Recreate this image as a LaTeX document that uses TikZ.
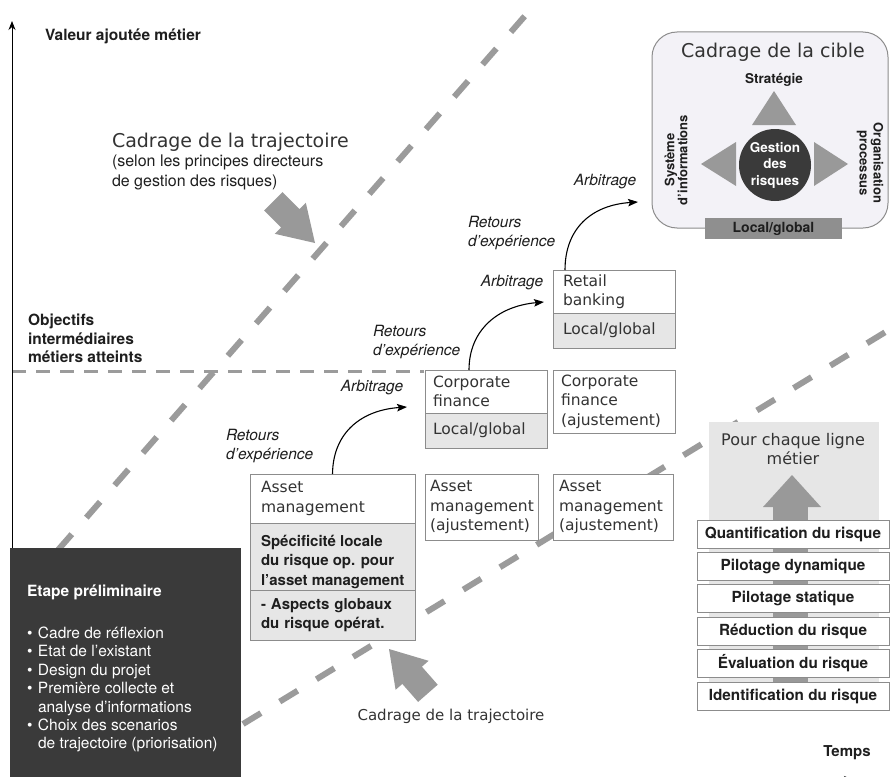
\documentclass[tikz,border=0pt]{standalone}
\usepackage{fontspec}
\setmainfont{TeX Gyre Heros}
\newfontfamily\geneva{DejaVu Sans}
\usetikzlibrary{arrows.meta}
\definecolor{dashgray}{HTML}{9B9B9B}
\definecolor{arrowgray}{HTML}{999999}
\definecolor{boxline}{HTML}{8C8C8C}
\definecolor{lightfill}{HTML}{E6E6E6}
\definecolor{darkfill}{HTML}{3A3A3A}
\definecolor{lavender}{HTML}{F3F2F7}
\definecolor{txt}{HTML}{333333}
\definecolor{txtdark}{HTML}{1E1E1E}
\definecolor{bargray}{HTML}{8F8F8F}
\begin{document}
\begin{tikzpicture}[x=1pt,y=-1pt,
  every node/.style={inner sep=0pt, outer sep=0pt},
  gen/.style={font=\geneva\fontsize{15.5}{19.5}\selectfont, text=txt},
  bx/.style={draw=boxline, line width=0.9pt, fill=white, inner xsep=8pt, inner ysep=0pt, align=left, anchor=north west, gen},
  gbx/.style={bx, fill=lightfill},
  bold/.style={font=\bfseries\fontsize{15}{19.5}\selectfont, text=txtdark},
  rbx/.style={draw=boxline, line width=0.9pt, fill=white, minimum width=192, minimum height=28, anchor=north west, font=\bfseries\fontsize{15.3}{18}\selectfont, text=txtdark},
  ital/.style={font=\itshape\fontsize{15.5}{18.5}\selectfont, text=txtdark, align=left},
  diag/.style={draw=dashgray, line width=6pt, dash pattern=on 21pt off 22pt},
  hdash/.style={draw=dashgray, line width=3pt, dash pattern=on 14pt off 10pt},
  axis/.style={draw=black, line width=0.9pt, -{Stealth[length=9pt,width=7pt]}},
  arr/.style={draw=black, line width=1.1pt, -{Stealth[length=10pt,width=7.5pt,inset=2pt]}}
]
\useasboundingbox (0,0) rectangle (890,776);

% dashed guide lines
\coordinate (d1a) at (58,550); \coordinate (d1b) at (531,9);
\coordinate (d2a) at (243,724); \coordinate (d2b) at (892,328);
\coordinate (hA) at (12,371); \coordinate (hB) at (424,371);
\draw[diag] (d1a) -- (d1b);
\draw[diag] (d2a) -- (d2b);
\draw[hdash] (hA) -- (hB);

% axes
\coordinate (yB) at (12,776); \coordinate (yT) at (12,21);
\draw[axis] (yB) -- (yT);
\coordinate (xA) at (12,779.5); \coordinate (xB) at (853,779.5);
\draw[axis] (xA) -- (xB);

% axis labels
\node[bold, anchor=west, font=\bfseries\fontsize{15.5}{19}\selectfont] (valeur) at (45,36) {Valeur ajoutée métier};
\node[bold, anchor=north west, align=left, font=\bfseries\fontsize{15.5}{18.7}\selectfont] (objectifs) at (28,314) {Objectifs\\intermédiaires\\métiers atteints};
\node[bold, font=\bfseries\fontsize{15}{18}\selectfont] (temps) at (847,753) {Temps};

% preliminary step box
\node[fill=darkfill, minimum width=231, minimum height=232, anchor=north west] (prelim) at (10,548) {};
\node[anchor=west, text=white, font=\bfseries\fontsize{15.5}{19}\selectfont] (prelimT) at (27,592) {Etape préliminaire};
\node[anchor=north west, align=left, text=white, font=\fontsize{15.5}{18.4}\selectfont] (prelimL) at (27,627)
  {\makebox[11pt][l]{•}Cadre de réflexion\\
   \makebox[11pt][l]{•}Etat de l'existant\\
   \makebox[11pt][l]{•}Design du projet\\
   \makebox[11pt][l]{•}Première collecte et\\
   \hspace*{11pt}analyse d'informations\\
   \makebox[11pt][l]{•}Choix des scenarios\\
   \hspace*{11pt}de trajectoire (priorisation)};

% trajectory framing arrows and texts
\fill[arrowgray] (315,243) -- (305.8,202.7) -- (299.4,209.1) -- (282.5,192.1) -- (264.1,210.5) -- (281.1,227.4) -- (274.7,233.8) -- cycle;
\fill[arrowgray] (389,649) -- (428.6,660.8) -- (421.9,666.7) -- (437.7,684.7) -- (418.1,701.9) -- (402.3,683.9) -- (395.6,689.8) -- cycle;
\node[anchor=west, font=\geneva\fontsize{19}{22}\selectfont, text=txt] (cadTop) at (112,142) {Cadrage de la trajectoire};
\node[anchor=north west, align=left, font=\fontsize{16}{20}\selectfont, text=txtdark] (cadSub) at (112,155) {(selon les principes directeurs\\de gestion des risques)};
\node[font=\geneva\fontsize{15}{18}\selectfont, text=txt] (cadBot) at (451,716) {Cadrage de la trajectoire};

% asset management boxes
\node[bx, inner xsep=11pt, minimum width=165, minimum height=49, text width=143] (amT) at (250,474) {Asset\\management};
\node[gbx, minimum width=165, minimum height=67] (amS) at (250,523) {};
\node[bold, anchor=north west, align=left] (amSt) at (261,535) {Spécificité locale\\du risque op. pour\\l’asset management};
\node[gbx, bold, inner xsep=11pt, minimum width=165, minimum height=50, text width=143] (amG) at (250,590) {- Aspects globaux\\du risque opérat.};
\node[bx, inner xsep=5pt, minimum width=113, minimum height=66, text width=103] (am2) at (425,474) {Asset\\management\\(ajustement)};
\node[bx, inner xsep=6pt, minimum width=120, minimum height=66, text width=108] (am3) at (553,474) {Asset\\management\\(ajustement)};

% corporate finance boxes
\node[bx, minimum width=122, minimum height=43, text width=106] (cfT) at (425,370) {Corporate\\finance};
\node[gbx, minimum width=122, minimum height=35, text width=106] (cfL) at (425,413) {Local/global};
\node[bx, minimum width=122, minimum height=63, text width=106] (cf2) at (553,370) {Corporate\\finance\\(ajustement)};

% retail banking boxes
\node[bx, inner xsep=10pt, minimum width=122, minimum height=43, text width=102] (rbT) at (553,270) {Retail\\banking};
\node[gbx, inner xsep=10pt, minimum width=122, minimum height=35, text width=102] (rbL) at (553,313) {Local/global};

% target box
\node[draw=boxline, line width=1pt, fill=lavender, rounded corners=25pt, minimum width=236, minimum height=196, anchor=north west] (cible) at (652,32) {};
\node[font=\geneva\fontsize{19}{22}\selectfont, text=txt] (cibleT) at (773,52) {Cadrage de la cible};
\node[font=\bfseries\fontsize{13.5}{16}\selectfont, text=txtdark] (strat) at (774,80) {Stratégie};
\fill[arrowgray] (752,125) -- (774,91) -- (796,125) -- cycle;
\fill[arrowgray] (701,164) -- (736,142) -- (736,186) -- cycle;
\fill[arrowgray] (848,164) -- (814,142) -- (814,186) -- cycle;
\node[circle, fill=darkfill, minimum size=72, text=white, align=center, font=\bfseries\fontsize{13.5}{16.5}\selectfont] (gdr) at (775,165) {Gestion\\des\\risques};
\node[rotate=90, align=center, font=\bfseries\fontsize{13}{13}\selectfont, text=txtdark] (si) at (676,160) {Système\\d'informations};
\node[rotate=-90, align=center, font=\bfseries\fontsize{13}{14}\selectfont, text=txtdark] (orga) at (870,163) {Organisation\\processus};
\node[fill=bargray, minimum width=137, minimum height=21, anchor=north west, font=\bfseries\fontsize{14}{16}\selectfont, text=txtdark] (cibleLG) at (705,218) {Local/global};

% arbitrage arrows
\coordinate (tipA) at (407,407);
\coordinate (tipB) at (544,302);
\coordinate (tipC) at (638,202);
\draw[arr] (amT.north) .. controls (333,432) and (362,410) .. (tipA);
\draw[arr] ([xshift=-17pt]cfT.north) .. controls (469,330) and (498,306) .. (tipB);
\draw[arr] ([xshift=-49pt]rbT.north) .. controls (565,228) and (592,205) .. (tipC);
\node[ital] (arbA) at (372,388) {Arbitrage};
\node[ital] (arbB) at (512,283) {Arbitrage};
\node[ital] (arbC) at (605,182) {Arbitrage};
\node[ital, anchor=west] (retA) at (226,446) {Retours\\d'expérience};
\node[ital, anchor=west] (retB) at (373,342) {Retours\\d'expérience};
\node[ital, anchor=west] (retC) at (468,233) {Retours\\d'expérience};

% right column
\fill[lightfill] (709,422) rectangle (879,710);
\fill[arrowgray] (773,507) rectangle (808,710);
\fill[arrowgray] (763,507) -- (792,475) -- (821,507) -- cycle;
\node[align=center, font=\geneva\fontsize{16}{18.5}\selectfont, text=txt] (chaque) at (793,449) {Pour chaque ligne\\métier};
\node[rbx] (r1) at (697,520) {Quantification du risque};
\node[rbx] (r2) at (697,552.4) {Pilotage dynamique};
\node[rbx] (r3) at (697,584.8) {Pilotage statique};
\node[rbx] (r4) at (697,617.2) {Réduction du risque};
\node[rbx] (r5) at (697,649.6) {Évaluation du risque};
\node[rbx] (r6) at (697,682) {Identification du risque};
\end{tikzpicture}
\end{document}
